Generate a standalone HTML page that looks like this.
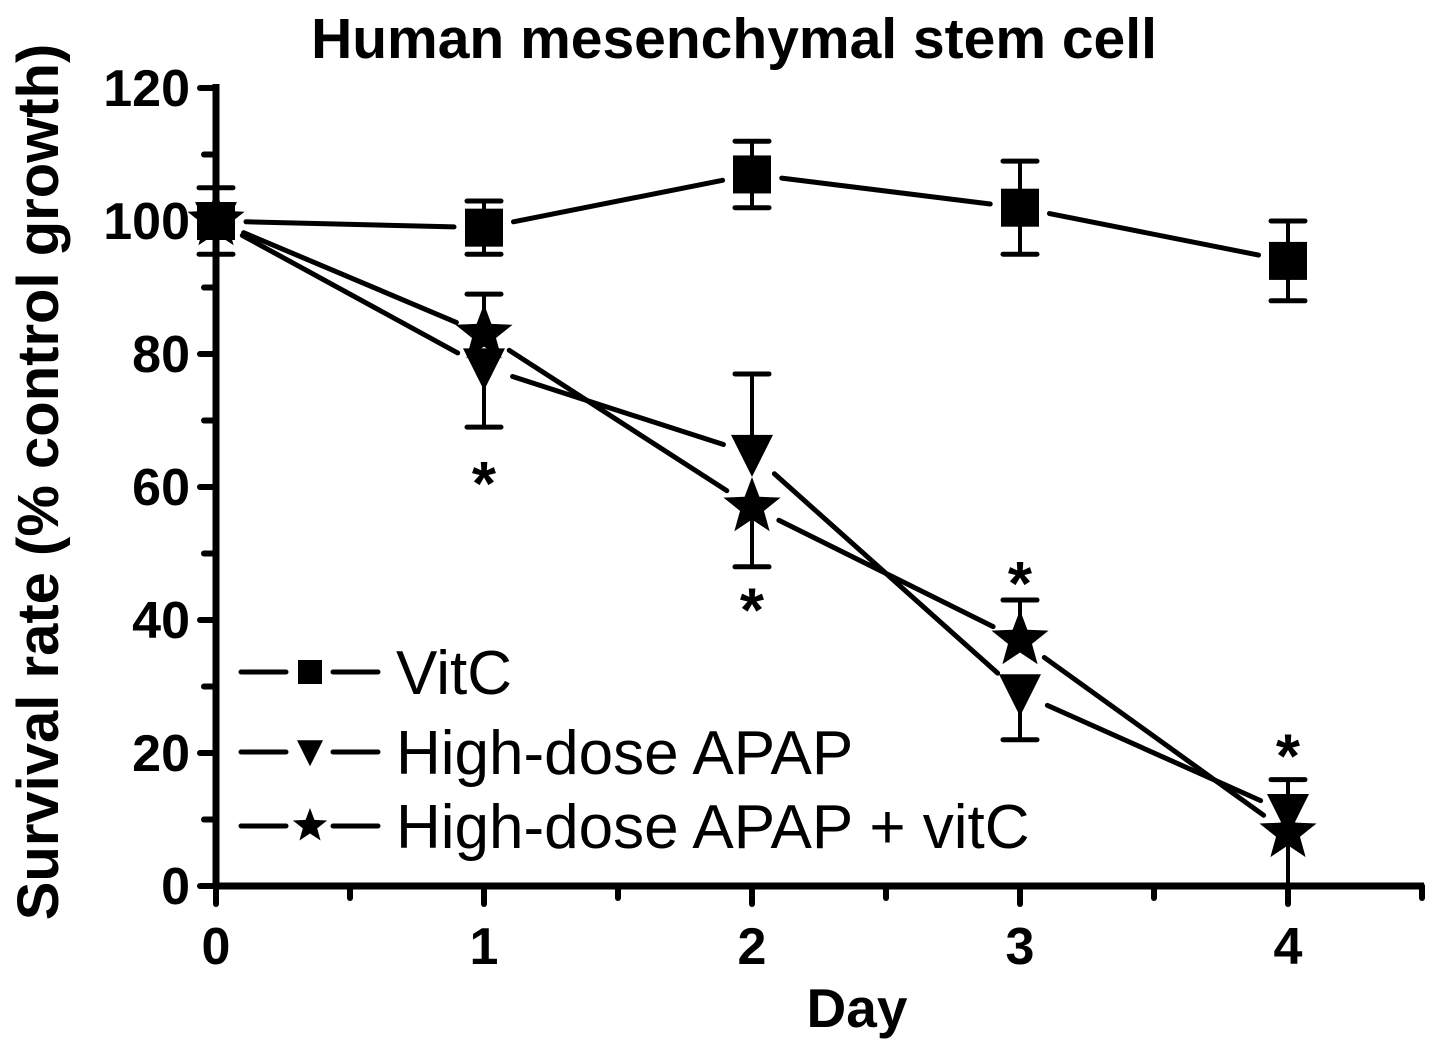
<!DOCTYPE html>
<html><head><meta charset="utf-8"><style>
body{margin:0;background:#fff}
svg{display:block;font-family:"Liberation Sans",Arial,sans-serif}
</style></head><body>
<svg id="c" width="1441" height="1055" viewBox="0 0 1441 1055"></svg>
<script>
const days=[0,1,2,3,4];
const vitc=[100,99,107,102,94];
const vitcErr=[5,4,5,7,6];
const apap=[100,78,65,29,11];
const apapErr=[0,9,12,7,5];
const apapErrDir=[0,-1,1,-1,1];
const combo=[100,83,57,37,8];
const comboErr=[0,6,9,6,8];
const comboErrDir=[0,1,-1,1,-1];
const yTicks=[0,20,40,60,80,100,120];
const xTicks=[0,1,2,3,4];
const starDays=[1,2,3,4];
const starVals=[63,44,48,22];

const svg=document.getElementById('c');
const NS='http://www.w3.org/2000/svg';
const X=d=>216+d*268;
const Y=v=>886-v*(798/120);
function mk(tag,attrs,parent){const e=document.createElementNS(NS,tag);for(const k in attrs)e.setAttribute(k,attrs[k]);(parent||svg).appendChild(e);return e;}

let ax=mk('path',{d:`M216 ${Y(120)-4} V889 M213 886 H1424`,stroke:'#000','stroke-width':7,fill:'none'});


for(let v=0;v<=120;v+=10){
  const major=v%20===0;
  mk('line',{x1:major?200:204,x2:216,y1:Y(v),y2:Y(v),stroke:'#000','stroke-width':6,'stroke-linecap':'round'});
}
for(let d=0;d<=4.5;d+=0.5){
  const major=d%1===0;
  mk('line',{x1:X(d),x2:X(d),y1:886,y2:major?904:898,stroke:'#000','stroke-width':6,'stroke-linecap':'round'});
}
yTicks.forEach(v=>{const t=mk('text',{x:190,y:Y(v)+18,'text-anchor':'end','font-size':52,'font-weight':'bold'});t.textContent=v;

});
xTicks.forEach(d=>{const t=mk('text',{x:X(d),y:964,'text-anchor':'middle','font-size':52,'font-weight':'bold'});t.textContent=d;

});

let t=mk('text',{x:734,y:58,'text-anchor':'middle','font-size':57,'font-weight':'bold'});t.textContent='Human mesenchymal stem cell';


t=mk('text',{x:857,y:1027,'text-anchor':'middle','font-size':55,'font-weight':'bold'});t.textContent='Day';


t=mk('text',{x:0,y:0,'text-anchor':'middle','font-size':58,'font-weight':'bold',transform:'translate(58,482) rotate(-90)'});t.textContent='Survival rate (% control growth)';



function seg(x1,y1,x2,y2,gap){
  const dx=x2-x1,dy=y2-y1,L=Math.hypot(dx,dy);const ux=dx/L,uy=dy/L;
  return `M${x1+ux*gap} ${y1+uy*gap} L${x2-ux*gap} ${y2-uy*gap}`;
}
function square(g,x,y,s){mk('rect',{x:x-s,y:y-s,width:2*s,height:2*s,fill:'#000'},g);}
function tri(g,x,y,s){mk('path',{d:`M${x-s} ${y-s*0.9} H${x+s} L${x} ${y+s*1.1}Z`,fill:'#000'},g);}
function star(g,x,y,r){let p='';for(let i=0;i<10;i++){const rr=i%2?r*0.42:r;const a=-Math.PI/2+i*Math.PI/5;p+=(i?'L':'M')+(x+rr*Math.cos(a))+' '+(y+rr*Math.sin(a));}mk('path',{d:p+'Z',fill:'#000'},g);}

function series(name,vals,errs,dirs,marker,size){
  const g=mk('g',{});
  
  
  let d='';
  for(let i=0;i<vals.length-1;i++)d+=seg(X(days[i]),Y(vals[i]),X(days[i+1]),Y(vals[i+1]),30);
  mk('path',{d,stroke:'#000','stroke-width':5,fill:'none','stroke-linecap':'round'},g);
  vals.forEach((v,i)=>{
    const x=X(days[i]);
    if(errs[i]>0){
      const ends=dirs?[v+dirs[i]*errs[i]]:[v+errs[i],v-errs[i]];
      ends.forEach(e=>{mk('line',{x1:x,x2:x,y1:Y(v),y2:Y(e),stroke:'#000','stroke-width':4},g);
        mk('line',{x1:x-17,x2:x+17,y1:Y(e),y2:Y(e),stroke:'#000','stroke-width':5,'stroke-linecap':'round'},g);});
    }
    marker(g,x,Y(v),size);
  });
}
series('series-vitc',vitc,vitcErr,null,square,19);
series('series-high-dose-apap',apap,apapErr,apapErrDir,tri,21);
series('series-apap-plus-vitc',combo,comboErr,comboErrDir,star,30);

starDays.forEach((d,i)=>{const s=mk('text',{x:X(d),y:Y(starVals[i])+38,'text-anchor':'middle','font-size':62,'font-weight':'bold'});s.textContent='*';

});

const legNames=['VitC','High-dose APAP','High-dose APAP + vitC'];
const legMarkers=[square,tri,star];
const legSizes=[12,13,18];
const legY=[672,752,826];
legNames.forEach((n,i)=>{
  const g=mk('g',{});
  
  
  mk('path',{d:`M241 ${legY[i]} H286 M333 ${legY[i]} H378`,stroke:'#000','stroke-width':5,'stroke-linecap':'round'},g);
  legMarkers[i](g,310,legY[i],legSizes[i]);
  const tx=mk('text',{x:396,y:legY[i]+22,'font-size':62},g);tx.textContent=n;
});
</script>
</body></html>
